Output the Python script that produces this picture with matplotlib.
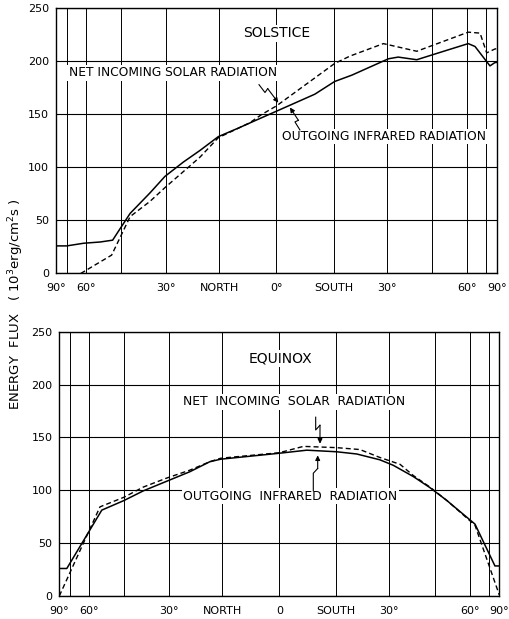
import numpy as np
import matplotlib
matplotlib.use("Agg")
import matplotlib.pyplot as plt

# ---- Solstice: zonal mean energy flux (10^3 erg/cm^2 s) vs latitude (N positive) ----
sol_ir_lat = [90, 72, 61, 53, 48, 44.6, 41.6, 35, 30.4, 25, 20.3, 15.3, 10, 5, 0,
              -10, -15.3, -20, -30.5, -33.5, -39.5, -50, -60.4, -64.2, -75.5, -82, -90]
sol_ir_val = [26, 26, 28.5, 29.7, 31.4, 44.5, 56.6, 76, 91.5, 105, 116, 129, 137, 145, 153,
              169, 181, 187, 202.4, 204, 201.5, 210, 216.7, 214, 195.7, 198.8, 199]

sol_solar_lat = [62.6, 48.4, 44.6, 41.6, 35, 30.4, 25, 20.3, 15.3, 7, 3.8, 0,
                 -15.3, -19.5, -29, -39.5, -60.4, -67.4, -72.4, -82, -90]
sol_solar_val = [0, 17.3, 37, 53.6, 68, 80.9, 96, 109.7, 128, 142, 150, 158,
                 198, 205, 216.7, 209.5, 227.5, 226.6, 208, 211.6, 212]

# ---- Equinox ----
eq_ir_lat = [90, 75, 53.8, 44.9, 38.2, 30.8, 24, 18.4, 15.4, 0, -7.2, -15.1, -20.6,
             -27.2, -31.2, -37.5, -43.2, -49.5, -62.8, -78.6, -90]
eq_ir_val = [26, 26, 81.2, 90.3, 99.4, 108.5, 117.5, 127, 129.4, 135, 137.9, 136.4, 134.3,
             128.8, 123.6, 113, 102.5, 90.5, 68, 28.4, 28.4]

eq_solar_lat = [90, 54.6, 44.9, 38.2, 30.8, 24, 18.4, 15.4, 0, -6.3, -15.1, -21.5,
                -27.2, -33.3, -37.5, -43.2, -49.5, -62.8, -90]
eq_solar_val = [0, 84.3, 93.4, 103, 111.5, 119, 127, 130.3, 135.5, 141.5, 140.3, 138.5,
                131, 124.5, 114, 103, 90.5, 67, 1]

# axis ticks and labels
tick_lats = [90, 60, 30, 15, 0, -15, -30, -60, -90]
sol_tick_labels = ["90°", "60°", "30°", "NORTH", "0°", "SOUTH", "30°", "60°", "90°"]
eq_tick_labels = ["90°", "60°", "30°", "NORTH", "0", "SOUTH", "30°", "60°", "90°"]
grid_lats = [72, 60, 45, 30, 15, 0, -15, -30, -45, -60, -72]
y_ticks = [0, 50, 100, 150, 200, 250]


def fwd(lat):
    return np.sin(np.radians(lat))


def inv(s):
    return np.degrees(np.arcsin(np.clip(s, -1, 1)))


plt.rcParams["font.family"] = ["DejaVu Sans"]

fig = plt.figure(figsize=(5.1, 6.19), dpi=100)
ax1 = fig.add_axes([0.1098, 0.5582, 0.8647, 0.4284])
ax2 = fig.add_axes([0.1163, 0.0372, 0.8627, 0.4270])


def setup(ax, labels):
    ax.set_xscale("function", functions=(fwd, inv))
    ax.set_xlim(90, -90)
    ax.set_ylim(0, 250)
    ax.xaxis.remove_overlapping_locs = False
    ax.set_xticks(tick_lats)
    ax.set_xticklabels(labels)
    ax.set_xticks(grid_lats, minor=True)
    ax.set_yticks(y_ticks)
    ax.tick_params(which="both", length=0, labelsize=8)
    ax.tick_params(axis="x", pad=7)
    ax.tick_params(axis="y", pad=5)
    ax.grid(False)
    ax.grid(which="minor", axis="x", color="black", lw=0.7)
    ax.grid(which="major", axis="y", color="black", lw=0.8)
    ax.set_axisbelow(True)
    for sp in ax.spines.values():
        sp.set_linewidth(1.0)


def bolt(ax, pts):
    xs = [p[0] for p in pts[:-1]]
    ys = [p[1] for p in pts[:-1]]
    ax.plot(xs, ys, color="black", lw=0.8, zorder=5)
    ax.annotate("", xy=pts[-1], xytext=pts[-2],
                arrowprops=dict(arrowstyle="-|>", color="black", lw=0.8,
                                mutation_scale=7, shrinkA=0, shrinkB=0),
                zorder=5)


box = dict(facecolor="white", edgecolor="none", pad=1.0)

# ---- Solstice panel ----
setup(ax1, sol_tick_labels)
ax1.plot(sol_ir_lat, sol_ir_val, color="black", lw=1.1, zorder=3)
ax1.plot(sol_solar_lat, sol_solar_val, color="black", lw=1.0, zorder=3,
         dashes=(3.6, 2.2))
ax1.text(0.5, 0.905, "SOLSTICE", transform=ax1.transAxes, ha="center", va="center",
         fontsize=10, bbox=box, zorder=4)
ax1.text(0.265, 0.757, "NET INCOMING SOLAR RADIATION", transform=ax1.transAxes,
         ha="center", va="center", fontsize=8.8, bbox=box, zorder=4)
ax1.text(0.743, 0.516, "OUTGOING INFRARED RADIATION", transform=ax1.transAxes,
         ha="center", va="center", fontsize=8.8, bbox=box, zorder=4)
bolt(ax1, [(4.55, 178), (2.99, 170.6), (2.29, 174.3), (-0.47, 161)])
bolt(ax1, [(-6.1, 135.3), (-4.8, 142.9), (-5.7, 144.4), (-3.5, 156.5)])

# ---- Equinox panel ----
setup(ax2, eq_tick_labels)
ax2.plot(eq_ir_lat, eq_ir_val, color="black", lw=1.1, zorder=3)
ax2.plot(eq_solar_lat, eq_solar_val, color="black", lw=1.0, zorder=3,
         dashes=(3.6, 2.2))
ax2.text(0.502, 0.899, "EQUINOX", transform=ax2.transAxes, ha="center", va="center",
         fontsize=10, bbox=box, zorder=4)
ax2.text(0.533, 0.735, "NET  INCOMING  SOLAR  RADIATION", transform=ax2.transAxes,
         ha="center", va="center", fontsize=8.9, bbox=box, zorder=4)
ax2.text(0.525, 0.378, "OUTGOING  INFRARED  RADIATION", transform=ax2.transAxes,
         ha="center", va="center", fontsize=8.9, bbox=box, zorder=4)
bolt(ax2, [(-9.52, 169.1), (-9.52, 157), (-10.66, 161.5), (-10.66, 144)])
bolt(ax2, [(-8.89, 99.4), (-8.89, 116.1), (-10.05, 120.6), (-10.05, 133)])

fig.text(0.031, 0.509, "ENERGY  FLUX   ( 10$^3$erg/cm$^2$s )", rotation=90,
         ha="center", va="center", fontsize=9.5)

fig.savefig("out.png", dpi=100)
